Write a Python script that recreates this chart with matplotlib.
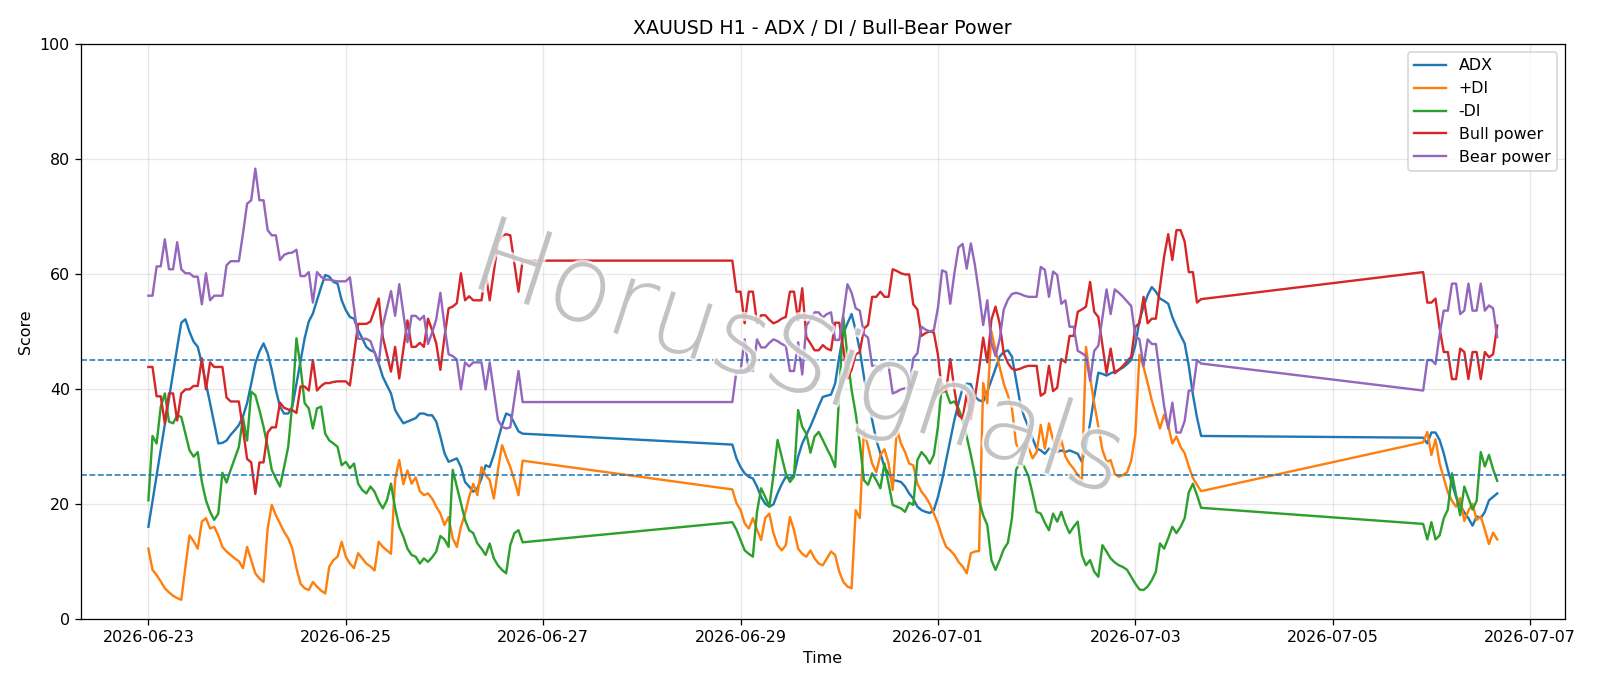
import numpy as np
import pandas as pd
import matplotlib
matplotlib.use("Agg")
import matplotlib.pyplot as plt
import matplotlib.dates as mdates
import matplotlib.patheffects as pe

# hourly bars, three trading blocks (weekends missing)
seg_starts = ["2026-06-23 00:00", "2026-06-28 22:00", "2026-07-05 22:00"]
seg_lengths = [92, 115, 19]

adx = [
    # 06-23 .. 06-26
    16.0, 20.5, 24.9, 29.4, 33.8, 38.3, 42.8, 47.2, 51.5, 52.1, 49.9, 48.2, 47.3, 44.4, 40.9, 37.5, 34.0, 30.5, 30.6, 31.0, 32.0, 32.8, 33.7,
    35.2, 37.5, 40.9, 44.4, 46.5, 47.9, 46.2, 43.3, 39.8, 36.9, 35.7, 35.7, 36.9, 40.9, 45.0, 48.8, 51.7, 53.1, 55.4, 57.7, 59.8, 59.5, 58.6,
    58.3, 55.4, 53.7, 52.5, 52.2, 50.2, 48.8, 47.3, 46.7, 46.4, 44.4, 42.1, 40.6, 39.2, 36.3, 35.1, 34.0, 34.3, 34.6, 34.9, 35.7, 35.7, 35.4,
    35.4, 34.3, 31.7, 28.8, 27.3, 27.6, 27.9, 26.4, 23.8, 23.0, 22.1, 22.7, 24.4, 26.7, 26.4, 28.5, 31.1, 33.7, 35.7, 35.4, 34.0, 32.6, 32.2,
    # 06-28 .. 07-03
    30.3, 27.9, 26.4, 25.3, 24.7, 24.4, 23.0, 21.2, 20.0, 19.5, 19.9, 21.8, 23.4, 24.7, 24.4, 25.0, 28.2, 30.5,
    32.0, 33.5, 35.2, 37.0, 38.6, 38.8, 39.0, 40.9, 45.6, 49.6, 51.4, 53.0, 50.2, 46.7, 42.1, 38.3, 34.6, 31.1, 28.8, 26.4, 25.3, 24.1, 24.0,
    23.8, 23.0, 21.8, 20.9, 19.5, 18.9, 18.6, 18.4, 18.9, 21.2, 24.1, 27.6, 31.1, 34.6, 37.5, 40.1, 40.9, 40.8, 38.6, 38.0, 37.8, 39.5, 41.5,
    43.5, 45.6, 46.4, 46.7, 45.6, 41.5, 37.5, 35.1, 33.4, 31.4, 29.6, 29.3, 28.7, 29.6, 29.3, 29.0, 29.3, 29.0, 29.3, 29.0, 28.7, 27.3, 29.9,
    34.0, 38.6, 42.8, 42.6, 42.3, 42.7, 43.0, 43.3, 43.7, 44.3, 45.0, 47.6, 51.9, 54.3, 56.3, 57.7, 56.9, 55.7, 55.3, 54.8, 52.5, 50.8, 49.3, 47.9, 44.0, 39.0, 35.0, 31.8,
    # 07-05 .. 07-06
    31.5, 30.5, 32.4, 32.4, 31.1, 28.8, 25.9, 23.5, 21.2, 19.8, 18.5, 17.5, 16.2, 17.8, 17.5, 18.6, 20.6, 21.2, 21.8,
]

plus_di = [
    12.2, 8.5, 7.6, 6.5, 5.3, 4.6, 4.0, 3.6, 3.3, 9.0, 14.5, 13.5, 12.2, 16.9, 17.5, 15.7, 16.0, 14.5, 12.5, 11.7, 11.1, 10.5, 10.0,
    8.8, 12.5, 10.2, 7.9, 7.0, 6.4, 15.7, 19.8, 18.0, 16.6, 15.1, 14.0, 12.2, 8.8, 6.1, 5.3, 5.0, 6.4, 5.6, 4.9, 4.4, 9.1, 10.2,
    10.8, 13.4, 10.8, 9.6, 8.8, 11.4, 10.5, 9.6, 9.1, 8.4, 13.4, 12.5, 11.9, 11.3, 24.3, 27.6, 23.4, 25.8, 23.5, 24.6, 22.2, 21.5, 21.8,
    20.9, 19.5, 18.3, 16.3, 17.7, 14.0, 12.5, 16.0, 18.3, 21.2, 23.5, 21.5, 26.4, 25.0, 24.1, 20.9, 25.9, 30.2, 28.2, 26.4, 24.1, 21.5, 27.5,
    22.5, 20.1, 18.9, 16.6, 15.7, 17.5, 15.5, 13.7, 17.5, 18.3, 14.9, 12.8, 11.9, 12.8, 17.7, 15.4, 12.2, 11.3,
    10.8, 11.9, 10.5, 9.6, 9.3, 10.5, 11.7, 11.1, 8.2, 6.4, 5.6, 5.3, 18.9, 17.5, 32.8, 30.0, 27.0, 25.5, 28.5, 29.5, 27.0, 22.4, 33.1,
    30.5, 29.0, 27.0, 26.7, 23.5, 22.1, 21.2, 20.0, 18.3, 16.6, 14.3, 12.5, 11.9, 11.1, 9.9, 9.1, 7.9, 11.4, 11.7, 11.8, 41.0, 37.5, 50.0,
    46.7, 43.8, 40.9, 38.9, 36.6, 30.5, 29.0, 29.6, 29.9, 27.9, 29.0, 33.7, 29.6, 34.0, 31.1, 29.0, 31.1, 28.2, 27.0, 26.1, 25.0, 23.8, 47.3,
    42.0, 37.5, 33.5, 29.4, 27.3, 27.6, 25.2, 24.7, 25.0, 25.5, 27.5, 32.0, 45.9, 43.8, 41.0, 38.0, 35.5, 33.1, 35.5, 33.5, 30.5, 31.7, 29.9, 28.8, 26.5, 24.5, 23.3, 22.2,
    30.7, 32.5, 28.5, 31.2, 27.0, 24.5, 22.0, 20.5, 19.5, 21.0, 17.0, 18.8, 20.0, 17.2, 17.8, 15.5, 13.0, 15.0, 13.8,
]

minus_di = [
    20.6, 31.8, 30.5, 36.9, 39.2, 34.3, 34.0, 35.4, 35.1, 32.2, 29.3, 28.2, 29.0, 23.8, 20.6, 18.6, 17.2, 18.3, 25.4, 23.7, 25.9, 27.9, 29.9,
    35.0, 31.0, 39.5, 38.9, 36.3, 33.4, 29.9, 25.9, 24.4, 23.0, 26.4, 29.9, 37.5, 48.8, 43.8, 37.5, 36.6, 33.1, 36.6, 36.9, 32.2, 31.0, 30.5,
    29.9, 26.7, 27.3, 26.2, 27.0, 23.5, 22.4, 21.8, 23.0, 22.1, 20.4, 19.2, 20.6, 23.5, 19.2, 16.0, 14.3, 12.2, 11.1, 10.8, 9.6, 10.5, 9.9,
    10.7, 11.7, 14.4, 13.8, 12.5, 25.9, 23.0, 20.1, 17.2, 15.4, 14.9, 13.1, 12.2, 11.1, 13.1, 10.5, 9.3, 8.5, 7.9, 12.8, 14.9, 15.4, 13.3,
    16.8, 15.5, 13.7, 11.9, 11.3, 10.8, 18.6, 22.7, 21.2, 19.5, 25.0, 31.1, 28.2, 25.3, 23.8, 24.7, 36.3, 33.4,
    32.2, 28.9, 31.7, 32.5, 31.1, 29.6, 28.2, 26.4, 39.2, 52.5, 45.6, 39.8, 35.7, 30.5, 24.1, 23.3, 25.3, 24.1, 22.7, 27.0, 23.5, 19.8, 19.5,
    19.2, 18.6, 20.2, 19.8, 27.6, 29.0, 28.2, 27.0, 28.5, 33.4, 40.9, 39.5, 37.5, 37.8, 36.6, 34.6, 31.7, 28.5, 25.0, 20.6, 18.0, 16.3, 10.2,
    8.5, 10.2, 12.1, 13.2, 17.5, 25.9, 27.3, 26.4, 24.8, 21.8, 18.6, 18.3, 16.7, 15.4, 18.3, 16.9, 18.6, 16.5, 14.9, 16.0, 16.9, 11.1, 9.3,
    10.2, 8.2, 7.3, 12.8, 11.7, 10.5, 9.8, 9.3, 9.0, 8.5, 7.3, 6.1, 5.1, 5.0, 5.6, 6.7, 8.2, 13.1, 12.2, 14.0, 16.0, 14.9, 16.0, 17.5, 22.0, 23.5, 21.5, 19.3,
    16.5, 13.8, 16.8, 13.8, 14.5, 17.5, 19.0, 25.3, 21.5, 18.0, 23.0, 21.0, 19.0, 20.5, 29.0, 26.5, 28.5, 26.0, 24.0,
]

bull_power = [
    43.8, 43.8, 38.7, 38.7, 34.0, 39.2, 39.2, 34.5, 39.2, 39.9, 39.9, 40.5, 40.5, 45.3, 39.9, 44.6, 43.8, 43.8, 43.8, 38.5, 37.8, 37.8, 37.8,
    33.0, 27.8, 27.2, 21.7, 27.2, 27.2, 32.4, 33.3, 33.3, 37.6, 36.7, 36.4, 36.3, 35.8, 40.4, 40.4, 39.7, 45.0, 39.7, 40.5, 41.0, 41.0, 41.2,
    41.3, 41.3, 41.3, 40.6, 46.0, 51.3, 51.3, 51.3, 51.7, 53.7, 55.7, 49.0, 46.0, 43.0, 47.3, 41.8, 46.9, 51.9, 47.3, 47.3, 48.0, 47.3, 52.2,
    50.2, 47.9, 43.3, 49.0, 54.0, 54.3, 54.9, 60.1, 55.4, 56.1, 55.4, 55.4, 55.4, 60.1, 55.4, 60.4, 65.4, 66.6, 66.9, 66.7, 61.8, 56.9, 62.3,
    62.3, 56.9, 56.9, 51.4, 56.9, 56.9, 51.4, 52.8, 52.8, 52.0, 51.4, 51.7, 52.2, 52.5, 56.9, 56.9, 51.9, 57.5,
    49.0, 47.9, 46.7, 46.7, 47.6, 47.0, 46.7, 51.5, 51.5, 47.0, 41.8, 43.3, 46.0, 46.4, 50.5, 51.1, 56.0, 56.0, 56.9, 56.0, 56.0, 60.8, 60.5,
    60.1, 59.9, 59.9, 54.7, 53.8, 49.2, 49.7, 50.0, 49.8, 45.9, 39.4, 39.7, 45.2, 39.9, 35.4, 34.8, 39.1, 34.7, 38.5, 43.4, 48.9, 44.6, 52.0,
    54.3, 51.4, 46.2, 44.5, 43.5, 43.3, 43.5, 43.8, 44.0, 44.0, 44.0, 38.8, 39.3, 44.0, 39.6, 40.2, 45.2, 44.6, 49.2, 49.2, 53.4, 53.8, 54.3,
    58.6, 53.4, 52.5, 47.6, 42.7, 47.0, 42.7, 43.3, 44.0, 44.8, 45.6, 50.8, 51.4, 56.0, 51.4, 52.2, 52.2, 57.7, 63.0, 66.9, 62.4, 67.6, 67.6, 65.6, 60.3, 60.3, 55.0, 55.6,
    60.3, 55.0, 55.0, 55.7, 50.5, 46.4, 46.4, 41.7, 41.7, 47.0, 46.4, 41.7, 46.4, 46.4, 41.7, 46.4, 45.5, 46.0, 51.0,
]

bear_power = [
    56.2, 56.2, 61.3, 61.3, 66.0, 60.8, 60.8, 65.5, 60.8, 60.1, 60.1, 59.5, 59.5, 54.7, 60.1, 55.4, 56.2, 56.2, 56.2, 61.5, 62.2, 62.2, 62.2,
    67.0, 72.2, 72.8, 78.3, 72.8, 72.8, 67.6, 66.7, 66.7, 62.4, 63.3, 63.6, 63.7, 64.2, 59.6, 59.6, 60.3, 55.0, 60.3, 59.5, 59.0, 59.0, 58.8,
    58.7, 58.7, 58.7, 59.4, 54.0, 48.7, 48.7, 48.7, 48.3, 46.3, 44.3, 51.0, 54.0, 57.0, 52.7, 58.2, 53.1, 48.1, 52.7, 52.7, 52.0, 52.7, 47.8,
    49.8, 52.1, 56.7, 51.0, 46.0, 45.7, 45.1, 39.9, 44.6, 43.9, 44.6, 44.6, 44.6, 39.9, 44.6, 39.6, 34.6, 33.4, 33.1, 33.3, 38.2, 43.1, 37.7,
    37.7, 43.1, 43.1, 48.6, 43.1, 43.1, 48.6, 47.2, 47.2, 48.0, 48.6, 48.3, 47.8, 47.5, 43.1, 43.1, 48.1, 42.5,
    51.0, 52.1, 53.3, 53.3, 52.4, 53.0, 53.3, 48.5, 48.5, 53.0, 58.2, 56.7, 54.0, 53.6, 49.5, 48.9, 44.0, 44.0, 43.1, 44.0, 44.0, 39.2, 39.5,
    39.9, 40.1, 40.1, 45.3, 46.2, 50.8, 50.3, 50.0, 50.2, 54.1, 60.6, 60.3, 54.8, 60.1, 64.6, 65.2, 60.9, 65.3, 61.5, 56.6, 51.1, 55.4, 48.0,
    45.7, 48.6, 53.8, 55.5, 56.5, 56.7, 56.5, 56.2, 56.0, 56.0, 56.0, 61.2, 60.7, 56.0, 60.4, 59.8, 54.8, 55.4, 50.8, 50.8, 46.6, 46.2, 45.7,
    41.4, 46.6, 47.5, 52.4, 57.3, 53.0, 57.3, 56.7, 56.0, 55.2, 54.4, 49.2, 48.6, 44.0, 48.6, 47.8, 47.8, 42.3, 37.0, 33.1, 37.6, 32.4, 32.4, 34.4, 39.7, 39.7, 45.0, 44.4,
    39.7, 45.0, 45.0, 44.3, 49.5, 53.6, 53.6, 58.3, 58.3, 53.0, 53.6, 58.3, 53.6, 53.6, 58.3, 53.6, 54.5, 54.0, 49.0,
]

levels = [25, 45]

times = pd.DatetimeIndex(np.concatenate([
    pd.date_range(s, periods=n, freq="h").values for s, n in zip(seg_starts, seg_lengths)
]))

fig = plt.figure(figsize=(14, 6.0025))
ax = fig.add_axes([0.0506, 0.098, 0.9273, 0.838])

ax.plot(times, adx, label="ADX")
ax.plot(times, plus_di, label="+DI")
ax.plot(times, minus_di, label="-DI")
ax.plot(times, bull_power, label="Bull power")
ax.plot(times, bear_power, label="Bear power")
for lv in levels:
    ax.axhline(lv, linestyle="--", linewidth=1.0, color="tab:blue")

ax.set_ylim(0, 100)
ax.set_xticks(pd.date_range("2026-06-23", "2026-07-07", freq="2D"))
ax.xaxis.set_major_formatter(mdates.DateFormatter("%Y-%m-%d"))
ax.set_title("XAUUSD H1 - ADX / DI / Bull-Bear Power")
ax.set_xlabel("Time")
ax.set_ylabel("Score")
ax.grid(True, alpha=0.3)
ax.legend(loc="upper right")

# watermark
fig.text(0.499, 0.472, "HorusSignals", fontsize=66, color="#b5b5b5", alpha=0.75,
         rotation=-18, rotation_mode="anchor", ha="center", va="center",
         fontweight="light", zorder=10,
         path_effects=[pe.withStroke(linewidth=3, foreground="white")])

fig.savefig("out.png", dpi=1600 / 14)
